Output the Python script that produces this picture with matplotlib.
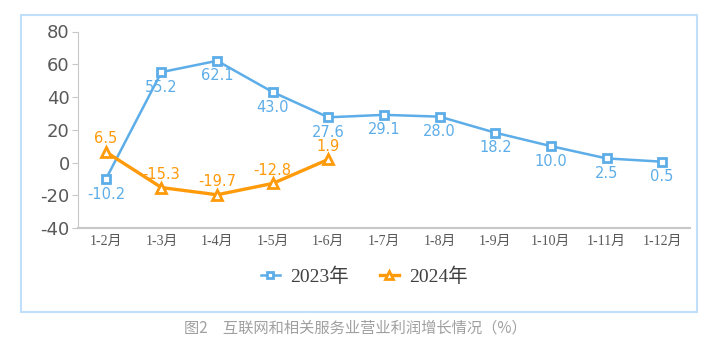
import matplotlib.pyplot as plt
from matplotlib.patches import Rectangle

plt.rcParams['font.family'] = ['Noto Sans CJK SC', 'DejaVu Sans']

months = ['1-2月', '1-3月', '1-4月', '1-5月', '1-6月', '1-7月', '1-8月',
          '1-9月', '1-10月', '1-11月', '1-12月']
v2023 = [-10.2, 55.2, 62.1, 43.0, 27.6, 29.1, 28.0, 18.2, 10.0, 2.5, 0.5]
v2024 = [6.5, -15.3, -19.7, -12.8, 1.9]
yticks = [-40, -20, 0, 20, 40, 60, 80]

blue = '#5DADE8'
orange = '#FF9A0A'
serif = ['Liberation Serif', 'Noto Sans CJK SC']

fig = plt.figure(figsize=(7.2, 3.53), dpi=100)
fig.patches.append(Rectangle((21 / 720, 1 - 312 / 353), 676 / 720, 297 / 353,
                             transform=fig.transFigure, fill=False,
                             edgecolor='#BFDFFB', linewidth=1.5))
ax = fig.add_axes([78 / 720, 1 - 228 / 353, 612 / 720, 196.5 / 353])

x = list(range(len(months)))
ax.plot(x, v2023, color=blue, lw=1.8, marker='s', ms=6, mfc='white',
        mec=blue, mew=2, label='2023年')
ax.plot(x[:len(v2024)], v2024, color=orange, lw=2.4, marker='^', ms=7,
        mfc='white', mec=orange, mew=2, label='2024年')

for i, v in enumerate(v2023):
    ax.annotate(f'{v:.1f}', (i, v), xytext=(0, -5.5), textcoords='offset points',
                ha='center', va='top', color=blue, fontsize=10.5,
                family='DejaVu Sans')
for i, v in enumerate(v2024):
    ax.annotate(f'{v:.1f}', (i, v), xytext=(0, 4), textcoords='offset points',
                ha='center', va='bottom', color=orange, fontsize=10.5,
                family='DejaVu Sans')

ax.set_xlim(-0.5, len(months) - 0.5)
ax.set_ylim(-40, 80)
ax.set_yticks(yticks)
ax.set_yticklabels([str(t) for t in yticks], fontsize=13, color='#595959',
                   family='DejaVu Sans')
ax.set_xticks(x)
ax.set_xticklabels(months, fontsize=10, color='#595959', family=serif)
ax.tick_params(axis='x', length=0, pad=5)
ax.tick_params(axis='y', length=4, color='#C8C8C8', pad=2)
for s in ['top', 'right']:
    ax.spines[s].set_visible(False)
ax.spines['left'].set_color('#C8C8C8')
ax.spines['bottom'].set_color('#C8C8C8')
ax.spines['bottom'].set_linewidth(1.5)

leg = fig.legend(loc='center', bbox_to_anchor=(364 / 720, 1 - 277 / 353),
                 ncol=2, frameon=False, handlelength=1.0, columnspacing=1.6,
                 handletextpad=0.5, markerscale=0.8,
                 prop={'family': serif, 'size': 14})
for t in leg.get_texts():
    t.set_color('#404040')

fig.text(355 / 720, 1 - 328 / 353, '图2　互联网和相关服务业营业利润增长情况（%）',
         ha='center', va='center', fontsize=11, color='#A0A0A0')

fig.savefig('out.png', dpi=100)
